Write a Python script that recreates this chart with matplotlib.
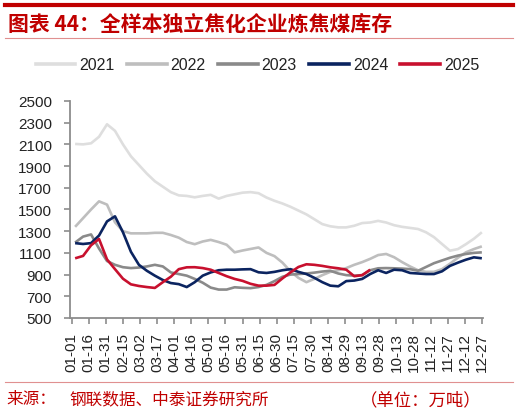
import numpy as np
import matplotlib
matplotlib.use('Agg')
import matplotlib.pyplot as plt
from matplotlib.lines import Line2D

# weekly readings (10k tonnes), first point in early January
years = ['2021', '2022', '2023', '2024', '2025']
stock_2021 = [2104, 2100, 2110, 2170, 2285, 2225, 2100, 1990, 1910, 1830, 1760, 1710, 1660,
              1630, 1625, 1612, 1625, 1635, 1600, 1625, 1640, 1655, 1660, 1650, 1610, 1580,
              1555, 1525, 1490, 1455, 1410, 1365, 1345, 1335, 1335, 1350, 1375, 1380, 1395,
              1380, 1355, 1340, 1330, 1320, 1290, 1245, 1182, 1120, 1135, 1180, 1230, 1290]
stock_2022 = [1340, 1420, 1500, 1575, 1545, 1382, 1300, 1280, 1280, 1280, 1285, 1285, 1265,
              1240, 1200, 1180, 1205, 1220, 1200, 1175, 1105, 1122, 1136, 1150, 1100, 1070,
              1010, 930, 870, 830, 860, 895, 925, 940, 960, 990, 1015, 1045, 1080,
              1090, 1060, 1015, 975, 940, 925, 925, 950, 1000, 1055, 1105, 1135, 1160]
stock_2023 = [1195, 1250, 1270, 1140, 1025, 990, 968, 960, 965, 975, 990, 975, 920,
              905, 890, 860, 825, 780, 762, 762, 783, 778, 775, 785, 805, 840,
              880, 900, 905, 910, 918, 928, 935, 910, 895, 890, 895, 940, 958,
              960, 958, 955, 950, 935, 970, 1005, 1030, 1055, 1075, 1090, 1100, 1105]
stock_2024 = [1190, 1182, 1190, 1260, 1390, 1437, 1290, 1110, 990, 935, 890, 850, 822,
              812, 785, 830, 890, 920, 940, 945, 945, 948, 950, 921, 915, 925,
              940, 950, 925, 905, 870, 830, 798, 792, 840, 845, 860, 905, 940,
              915, 945, 940, 915, 910, 905, 905, 930, 980, 1010, 1037, 1059, 1050]
stock_2025 = [1050, 1072, 1170, 1228, 1040, 950, 862, 810, 795, 785, 777, 830, 880,
              950, 967, 968, 960, 945, 915, 885, 860, 842, 815, 798, 798, 805,
              865, 920, 970, 995, 990, 980, 967, 958, 945, 885, 895, 945]
tick_labels = ['01-01', '01-16', '01-31', '02-15', '03-02', '03-17', '04-01', '04-16',
               '05-01', '05-16', '05-31', '06-15', '06-30', '07-15', '07-30', '08-14',
               '08-29', '09-13', '09-28', '10-13', '10-28', '11-12', '11-27', '12-12', '12-27']

series = [stock_2021, stock_2022, stock_2023, stock_2024, stock_2025]
colors = ['#DEDEDE', '#BEBEBE', '#8A8A8A', '#0B2460', '#C8102E']

cjk = ['Noto Sans CJK SC', 'DejaVu Sans']
plt.rcParams['font.family'] = ['Liberation Sans', 'DejaVu Sans']

fig = plt.figure(figsize=(5.18, 4.14), dpi=100)
ax = fig.add_axes([0.1351, 0.2295, 0.7973, 0.5242])

for yr, vals, c in zip(years, series, colors):
    days = 3 + 7 * np.arange(len(vals))
    ax.plot(days, vals, color=c, lw=1.9, label=yr, solid_capstyle='butt')

ax.set_xlim(-1.5, 361)
ax.set_ylim(500, 2500)
ax.set_yticks(np.arange(500, 2501, 200))
ax.set_xticks(np.arange(0, 361, 15))
ax.set_xticklabels(tick_labels, rotation=90)
ax.tick_params(axis='both', labelsize=11, color='#8C8C8C', length=4, width=1.2,
               labelcolor='#222222')
ax.tick_params(axis='x', pad=6)
ax.tick_params(axis='y', pad=9)
for s in ['top', 'right']:
    ax.spines[s].set_visible(False)
for s in ['left', 'bottom']:
    ax.spines[s].set_color('#8C8C8C')
    ax.spines[s].set_linewidth(1.3)

handles = [Line2D([], [], color=c, lw=2.6) for c in colors]
fig.legend(handles, years, loc='center', bbox_to_anchor=(0.497, 0.8406), ncol=5,
           frameon=False, fontsize=11.5, handlelength=2.5, handletextpad=0.25,
           columnspacing=0.75, labelcolor='#222222')

# header and footer decorations
fig.add_artist(Line2D([0.01, 0.99], [0.9855, 0.9855], color='#C00000', lw=3))
fig.add_artist(Line2D([0.01, 0.99], [0.906, 0.906], color='#E09090', lw=0.8))
fig.add_artist(Line2D([0.01, 0.99], [0.0745, 0.0745], color='#E09090', lw=0.8))
fig.text(0.015, 0.94, '图表 44：全样本独立焦化企业炼焦煤库存', family=cjk,
         fontsize=15, fontweight='bold', color='#C00000', va='center', style='italic')
fig.text(0.013, 0.034, '来源：', family=cjk,
         fontsize=12, color='#C00000', va='center')
fig.text(0.135, 0.034, '钢联数据、中泰证券研究所', family=cjk,
         fontsize=12, color='#C00000', va='center')
fig.text(0.695, 0.034, '（单位：万吨）', family=cjk,
         fontsize=12.5, color='#C00000', va='center')

fig.savefig('out.png', dpi=100)
